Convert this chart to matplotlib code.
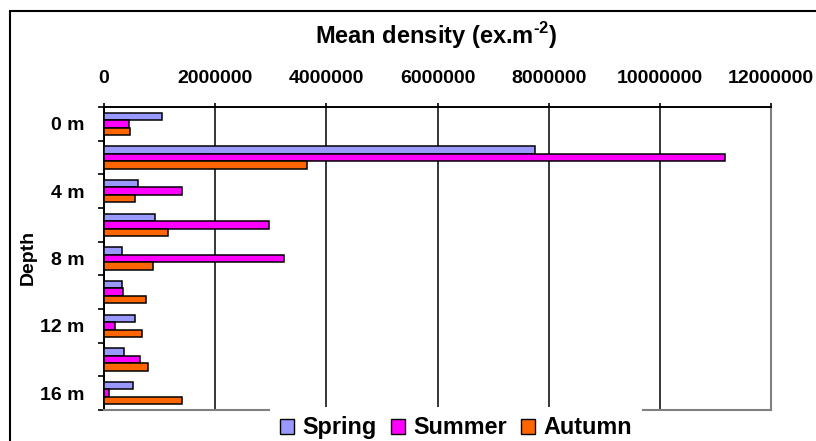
import numpy as np
import matplotlib
matplotlib.use('Agg')
import matplotlib.pyplot as plt
from matplotlib.patches import Patch, Rectangle
from matplotlib.ticker import FuncFormatter

plt.rcParams['font.family'] = ['Liberation Sans', 'DejaVu Sans']
plt.rcParams['font.weight'] = 'bold'
plt.rcParams['mathtext.fontset'] = 'custom'
plt.rcParams['mathtext.rm'] = 'Liberation Sans:bold'
plt.rcParams['mathtext.bf'] = 'Liberation Sans:bold'

# data (ex.m-2)
depths = [0, 2, 4, 6, 8, 10, 12, 14, 16]
depth_labels = ['0 m', '', '4 m', '', '8 m', '', '12 m', '', '16 m']
spring = [1050000, 7760000, 620000, 920000, 330000, 330000, 550000, 360000, 520000]
summer = [450000, 11170000, 1410000, 2970000, 3230000, 350000, 190000, 650000, 90000]
autumn = [460000, 3660000, 560000, 1150000, 880000, 750000, 690000, 790000, 1410000]
seasons = ['Spring', 'Summer', 'Autumn']
colors = ['#9999FF', '#FF00FF', '#FF6600']
x_ticks = [0, 2000000, 4000000, 6000000, 8000000, 10000000, 12000000]

W, H = 816, 441
fig = plt.figure(figsize=(W / 100, H / 100), dpi=100)

# outer chart frame (cut off at right and bottom)
fig.patches.append(Rectangle((10 / W, -0.2), 1.2, 1 - 11 / H + 0.2,
                             transform=fig.transFigure, fill=False,
                             edgecolor='black', linewidth=1.5, zorder=0))

ax = fig.add_axes([104 / W, 1 - 410 / H, 667 / W, 303 / H])

pos = np.arange(len(depths))
h = 0.22
for i, (vals, c) in enumerate(zip([spring, summer, autumn], colors)):
    ax.barh(pos + (i - 1) * h, vals, height=h, color=c,
            edgecolor='black', linewidth=1.1, label=seasons[i], zorder=3)

ax.set_xlim(0, 12000000)
ax.set_ylim(len(depths) - 0.5, -0.5)

ax.xaxis.tick_top()
ax.set_xticks(x_ticks)
ax.xaxis.set_major_formatter(FuncFormatter(lambda v, p: f'{int(v)}'))
ax.tick_params(axis='x', direction='out', length=3, width=1.2, pad=11.5,
               labelsize=14, colors='black')
ax.grid(axis='x', color='black', linewidth=1.1, zorder=1)
ax.set_axisbelow(True)

ax.set_yticks(np.arange(len(depths) + 1) - 0.5)
ax.set_yticklabels([])
ax.set_yticks(pos, minor=True)
ax.set_yticklabels(depth_labels, minor=True)
ax.tick_params(axis='y', which='major', direction='out', length=4.5, width=1.2)
ax.tick_params(axis='y', which='minor', length=0, pad=14, labelsize=14)

for s in ['top', 'left']:
    ax.spines[s].set_color('black')
    ax.spines[s].set_linewidth(1.4)
for s in ['right', 'bottom']:
    ax.spines[s].set_color('#808080')
    ax.spines[s].set_linewidth(1.5)

fig.text(436 / W, 1 - 43.5 / H, 'Mean density (ex.m$^{\\mathbf{\u20102}}$)',
         ha='center', va='baseline', fontsize=17, fontweight='bold')
fig.text(28 / W, 1 - 257 / H, 'Depth', rotation=90, ha='center', va='center',
         fontsize=14, fontweight='bold')

handles = [Patch(facecolor=c, edgecolor='black', linewidth=1.0) for c in colors]
leg = fig.legend(handles, seasons, loc='upper center', ncol=3,
                 bbox_to_anchor=(456 / W, 1 - 407 / H), borderaxespad=0,
                 frameon=True, fancybox=False, facecolor='white',
                 edgecolor='none', framealpha=1, borderpad=0.4,
                 handlelength=0.6, handleheight=0.6, handletextpad=0.36,
                 columnspacing=0.62, prop={'size': 16.8, 'weight': 'bold'})

fig.savefig('out.png', dpi=100)
